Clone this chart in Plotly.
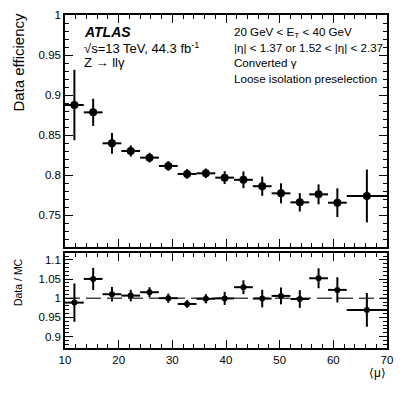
"""
Photon isolation efficiency vs pile-up (data) with Data/MC ratio panel
"""

import plotly.graph_objects as go

# Binning in <mu>
bin_edges = [10, 13.5, 17, 20.5, 24, 27.5, 31, 34.5, 38, 41.5, 45, 48.5, 52, 55.5, 59, 62.5, 70]

# Data efficiency and its uncertainty
eff = [0.8875, 0.8783, 0.8396, 0.8300, 0.8217, 0.8113, 0.8013, 0.8021,
       0.7967, 0.7940, 0.7860, 0.7771, 0.7658, 0.7758, 0.7654, 0.7738]
eff_err = [0.044, 0.017, 0.013, 0.007, 0.006, 0.006, 0.006, 0.006,
           0.008, 0.0105, 0.012, 0.0125, 0.0115, 0.0125, 0.018, 0.033]

# Data / MC ratio and its uncertainty
ratio = [0.9885, 1.0503, 1.0104, 1.0068, 1.0156, 1.0000, 0.9850, 0.9985,
         0.9995, 1.0287, 0.9990, 1.0060, 0.9980, 1.0520, 1.0217, 0.9695]
ratio_err = [0.050, 0.029, 0.019, 0.015, 0.013, 0.012, 0.010, 0.012,
             0.017, 0.018, 0.023, 0.022, 0.023, 0.026, 0.033, 0.044]

centers = [(lo + hi) / 2 for lo, hi in zip(bin_edges[:-1], bin_edges[1:])]
half_w = [(hi - lo) / 2 for lo, hi in zip(bin_edges[:-1], bin_edges[1:])]

FONT = 'Liberation Sans, Arial, Helvetica, sans-serif'

fig = go.Figure()

fig.add_trace(go.Scatter(
    x=centers, y=eff, mode='markers',
    marker=dict(color='black', size=8),
    error_x=dict(type='data', array=half_w, color='black', thickness=2, width=0),
    error_y=dict(type='data', array=eff_err, color='black', thickness=2, width=0),
    xaxis='x', yaxis='y', showlegend=False
))

fig.add_trace(go.Scatter(
    x=centers, y=ratio, mode='markers',
    marker=dict(color='black', size=6),
    error_x=dict(type='data', array=half_w, color='black', thickness=2, width=0),
    error_y=dict(type='data', array=ratio_err, color='black', thickness=2, width=0),
    xaxis='x2', yaxis='y2', showlegend=False
))

# Unity line in the ratio panel
fig.add_shape(type='line', xref='x2', yref='y2', x0=10, x1=70, y0=1, y1=1,
              line=dict(color='#444444', width=1.5, dash='15px,6px'), layer='below')

axis_common = dict(
    showline=True, linecolor='black', linewidth=1.5, mirror='allticks',
    ticks='inside', ticklen=8, tickwidth=1, tickcolor='black',
    showgrid=False, zeroline=False, automargin=False,
    tickfont=dict(family=FONT, size=11.5, color='black'),
)

# page body has an 8px default margin, so the figure is sized to sit inside it
fig.update_layout(
    width=391, height=379,
    margin=dict(l=57, r=12, t=7, b=39),
    plot_bgcolor='white', paper_bgcolor='white',
    font=dict(family=FONT, color='black'),
    xaxis=dict(axis_common, domain=[0, 1], range=[10, 70], anchor='y',
               dtick=10, showticklabels=False,
               minor=dict(dtick=2, ticks='inside', ticklen=4, tickcolor='black', showgrid=False)),
    yaxis=dict(axis_common, domain=[0.3033, 1], range=[0.71, 1.0], anchor='x',
               tick0=0, dtick=0.05,
               minor=dict(dtick=0.01, ticks='inside', ticklen=4, tickcolor='black', showgrid=False)),
    xaxis2=dict(axis_common, domain=[0, 1], range=[10, 70], anchor='y2',
                dtick=10, matches='x',
                minor=dict(dtick=2, ticks='inside', ticklen=4, tickcolor='black', showgrid=False)),
    yaxis2=dict(axis_common, domain=[0, 0.2853], range=[0.87, 1.118], anchor='x2',
                tick0=0, dtick=0.05,
                minor=dict(dtick=0.01, ticks='inside', ticklen=4, tickcolor='black', showgrid=False)),
)

annotations = [
    # axis titles
    dict(text='Data efficiency', x=-0.144, y=0.859, textangle=-90, font=dict(size=15)),
    dict(text='Data / MC', x=-0.146, y=0.198, textangle=-90, font=dict(size=10.5)),
    dict(text='⟨μ⟩', x=0.972, y=-0.075, font=dict(size=12)),
    # ATLAS label
    dict(text='<b><i>ATLAS</i></b>', x=0.053, y=0.949, xanchor='left', font=dict(size=14)),
    dict(text='√s=13 TeV, 44.3 fb<sup>-1</sup>', x=0.053, y=0.901, xanchor='left', font=dict(size=13)),
    dict(text='Z → llγ', x=0.053, y=0.856, xanchor='left', font=dict(size=13)),
    # selection text
    dict(text='20 GeV < E<sub>T</sub> < 40 GeV', x=0.519, y=0.946, xanchor='left', font=dict(size=11.6)),
    dict(text='|η| < 1.37 or 1.52 < |η| < 2.37', x=0.519, y=0.901, xanchor='left', font=dict(size=11.6)),
    dict(text='Converted γ', x=0.519, y=0.856, xanchor='left', font=dict(size=11.6)),
    dict(text='Loose isolation preselection', x=0.519, y=0.808, xanchor='left', font=dict(size=11.6)),
]
for a in annotations:
    a.setdefault('xanchor', 'center')
    fig.add_annotation(xref='paper', yref='paper', yanchor='middle', showarrow=False, **a)

fig.write_html("out.html")
